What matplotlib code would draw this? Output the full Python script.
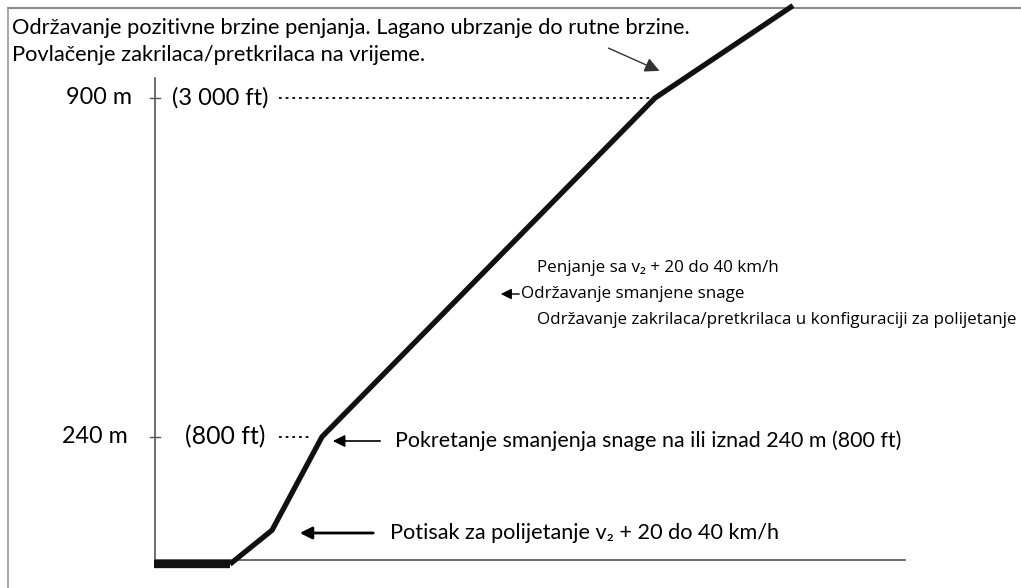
import matplotlib.pyplot as plt

# putanja penjanja (udaljenost u proizvoljnim jedinicama, visina u m)
udaljenost = [230, 272, 322, 655, 793]
visina = [-8, 58, 240, 900, 1080]
pista_x = [154, 230]
pista_y = [-8, -8]

visine_oznake = [900, 240]
oznake_m = ['900 m', '240 m']
oznake_ft = ['(3 000 ft)', '(800 ft)']

naslov_1 = 'Održavanje pozitivne brzine penjanja. Lagano ubrzanje do rutne brzine.'
naslov_2 = 'Povlačenje zakrilaca/pretkrilaca na vrijeme.'
tekst_sredina = ['Penjanje sa v\u2082 + 20 do 40 km/h',
                 'Održavanje smanjene snage',
                 'Održavanje zakrilaca/pretkrilaca u konfiguraciji za polijetanje']
tekst_240 = 'Pokretanje smanjenja snage na ili iznad 240 m (800 ft)'
tekst_potisak = 'Potisak za polijetanje v\u2082 + 20 do 40 km/h'

font_uski = ['Lato', 'DejaVu Sans']
font_siroki = ['Open Sans', 'DejaVu Sans']

fig = plt.figure(figsize=(10.21, 5.88), dpi=100)
ax = fig.add_axes([0, 0, 1, 1])
ax.set_xlim(0, 1021)
k = 462 / 900.0  # px po metru
ax.set_ylim(-28 / k, 560 / k)
ax.axis('off')
renderer = fig.canvas.get_renderer()


def py(p):
    return (560 - p) / k


def tekst(x, y, s, sirina, family, **kw):
    # velicina fonta tako da tekst bude sirok 'sirina' piksela
    t = ax.text(x, y, s, fontsize=10, family=family, va='center', **kw)
    w = t.get_window_extent(renderer).width
    t.set_fontsize(10 * sirina / w)
    return t


# okvir
ax.plot([8, 1021], [py(8)] * 2, color='#8a8a8a', lw=1.5, clip_on=False)
ax.plot([8, 8], [py(8), py(588)], color='#9a9a9a', lw=1.2, clip_on=False)

# osi
ax.plot([155, 155], [0, py(78)], color='#555555', lw=1.2)
ax.plot([155, 905], [0, 0], color='#555555', lw=1.2)

for v in visine_oznake:
    ax.plot([150, 160], [v, v], color='#555555', lw=1.0)

t = tekst(132, visine_oznake[0], oznake_m[0], 65, font_uski, ha='right')
ax.text(128, visine_oznake[1], oznake_m[1], ha='right', va='center',
        fontsize=t.get_fontsize(), family=font_uski)
tekst(172, visine_oznake[0], oznake_ft[0], 96, font_uski, ha='left')
tekst(185, visine_oznake[1], oznake_ft[1], 80, font_uski, ha='left')
ax.plot([279, 652], [visine_oznake[0]] * 2, color='black', lw=1.3, ls=(0, (1.5, 2.2)))
ax.plot([279, 312], [visine_oznake[1]] * 2, color='black', lw=1.3, ls=(0, (1.5, 2.2)))

# putanja
ax.plot(pista_x, pista_y, color='#111111', lw=6, solid_capstyle='butt')
ax.plot(udaljenost, visina, color='#111111', lw=3.8, solid_joinstyle='miter',
        solid_capstyle='butt', clip_on=False)

# tekstovi gore
t = tekst(12, py(28), naslov_1, 680, font_uski, ha='left')
ax.text(12, py(55), naslov_2, ha='left', va='center', fontsize=t.get_fontsize(), family=font_uski)
ax.annotate('', xy=(662, py(72)), xytext=(606, py(47)),
            arrowprops=dict(arrowstyle='-|>', color='#333333', lw=1.0, mutation_scale=22))

# tekst u sredini
t = tekst(537, py(320), tekst_sredina[2], 480, font_siroki, ha='left')
ax.text(537, py(268), tekst_sredina[0], ha='left', va='center', fontsize=t.get_fontsize(), family=font_siroki)
ax.text(521, py(294), tekst_sredina[1], ha='left', va='center', fontsize=t.get_fontsize(), family=font_siroki)
ax.annotate('', xy=(498, py(294)), xytext=(522, py(294)),
            arrowprops=dict(arrowstyle='-|>', color='black', lw=1.0, mutation_scale=16))

# 240 m
tekst(395, py(441), tekst_240, 503, font_uski, ha='left')
ax.annotate('', xy=(330, py(441)), xytext=(383, py(441)),
            arrowprops=dict(arrowstyle='-|>', color='black', lw=1.2, mutation_scale=18))

# potisak
tekst(390, py(533), tekst_potisak, 390, font_uski, ha='left')
ax.annotate('', xy=(297, py(533)), xytext=(376, py(533)),
            arrowprops=dict(arrowstyle='-|>', color='black', lw=2.0, mutation_scale=18))

fig.savefig('out.png', dpi=100)
